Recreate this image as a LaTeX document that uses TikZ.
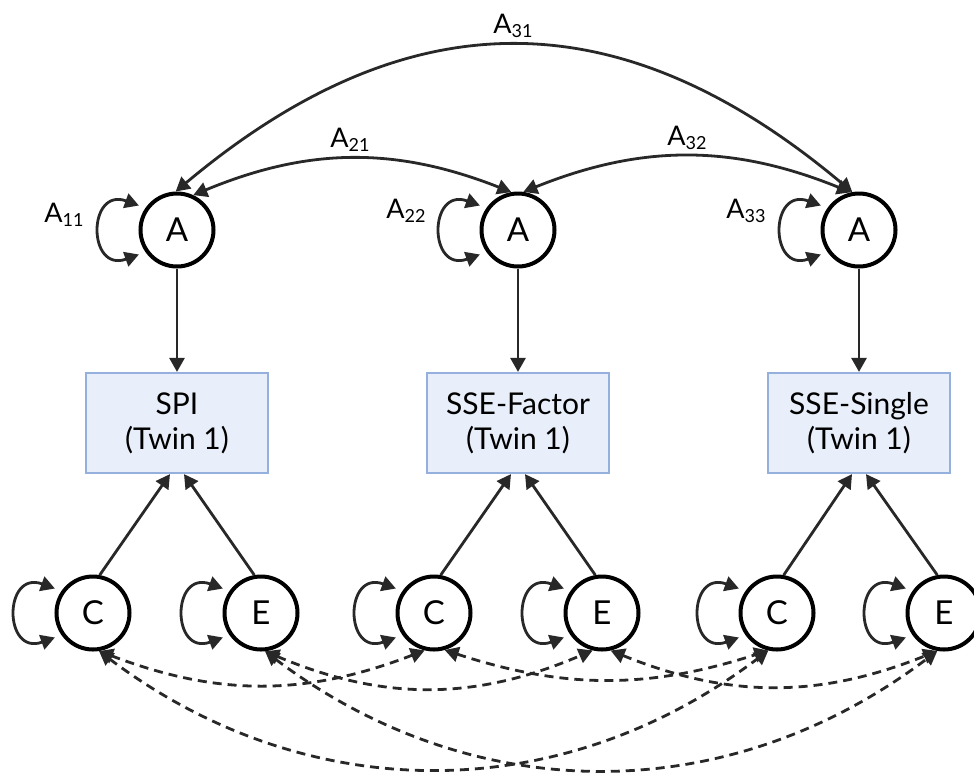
\documentclass[tikz,border=0pt]{standalone}
\usepackage{fontspec}
\setmainfont{Lato}
\usepackage{tikz}
\usetikzlibrary{arrows.meta}
\definecolor{boxfill}{RGB}{232,239,250}
\definecolor{boxline}{RGB}{150,176,222}
\definecolor{ink}{RGB}{40,40,40}
\newcommand{\idx}[1]{{\fontsize{18}{18}\selectfont\raisebox{-4pt}{#1}}}

\begin{document}
\begin{tikzpicture}[x=1pt,y=1pt,
    latent/.style={circle,draw=black,line width=4pt,minimum size=73pt,inner sep=0pt,font=\fontsize{33}{33}\selectfont},
    measure/.style={rectangle,draw=boxline,fill=boxfill,line width=2.2pt,minimum width=182pt,minimum height=100pt,align=center,font=\fontsize{30}{35}\selectfont},
    lbl/.style={anchor=base,inner sep=0pt,font=\fontsize{27}{27}\selectfont},
    load/.style={draw=ink,line width=2.8pt,-{Triangle[length=14pt,width=15pt]}},
    cov/.style={draw=ink,line width=2.8pt,{Triangle[length=14pt,width=15pt]}-{Triangle[length=14pt,width=15pt]}},
    var/.style={cov,shorten >=7pt,shorten <=7pt,out=160,in=200,looseness=3.6},
    corr/.style={cov,dash pattern=on 9pt off 6pt}]
    \useasboundingbox (0,0) rectangle (974,-782);

    \node[latent] (a1) at (177,-230) {A};
    \node[latent] (a2) at (518,-230) {A};
    \node[latent] (a3) at (859,-230) {A};

    \node[measure] (b1) at (177,-423) {SPI\\(Twin 1)};
    \node[measure] (b2) at (518,-423) {SSE-Factor\\(Twin 1)};
    \node[measure] (b3) at (859,-423) {SSE-Single\\(Twin 1)};

    \node[latent] (c1) at (93,-613) {C};
    \node[latent] (e1) at (261,-613) {E};
    \node[latent] (c2) at (434,-613) {C};
    \node[latent] (e2) at (602,-613) {E};
    \node[latent] (c3) at (777,-613) {C};
    \node[latent] (e3) at (944,-613) {E};

    \node[lbl] (l11) at (64,-222) {A\idx{11}};
    \node[lbl] (l22) at (406,-218) {A\idx{22}};
    \node[lbl] (l33) at (746,-218) {A\idx{33}};
    \node[lbl] (l21) at (350,-147) {A\idx{21}};
    \node[lbl] (l32) at (687,-145) {A\idx{32}};
    \node[lbl] (l31) at (513,-33) {A\idx{31}};

    \foreach \n in {a1,a2,a3,c1,e1,c2,e2,c3,e3}
        \draw[var] (\n.145) to (\n.215);

    \foreach \i in {1,2,3} {
        \draw[load] (a\i) -- (b\i);
        \draw[load] (c\i.80) -- ([xshift=-7pt]b\i.south);
        \draw[load] (e\i.100) -- ([xshift=7pt]b\i.south);
    }

    \draw[cov] (a1.65) to[bend left=22] (a2.100);
    \draw[cov] (a2.82) to[bend left=22] (a3.102);
    \draw[cov] (a1.92) to[bend left=40,looseness=1.15] (a3.100);

    \draw[corr] (c1.279) to[bend right=21] (c2.256);
    \draw[corr] (c1.279) to[bend right=37] (c3.257);
    \draw[corr] (c2.286) to[bend right=18] (c3.257);
    \draw[corr] (e1.276) to[bend right=23] (e2.256);
    \draw[corr] (e1.276) to[bend right=37] (e3.260);
    \draw[corr] (e2.283) to[bend right=22] (e3.260);
\end{tikzpicture}
\end{document}
